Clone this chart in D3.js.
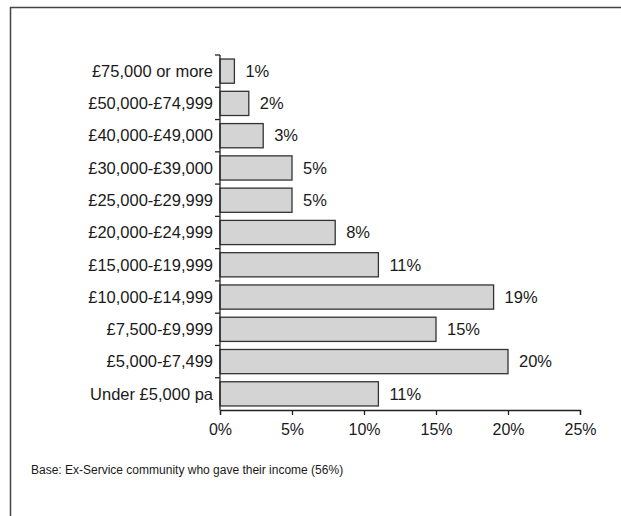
<!DOCTYPE html>
<html>
<head>
<meta charset="utf-8">
<script src="https://cdn.jsdelivr.net/npm/d3@7"></script>
<style>
body { margin: 0; background: #fff; }
text { font-family: "Liberation Sans", Arial, sans-serif; fill: #1a1a1a; }
</style>
</head>
<body>
<script>
// chart data
var categories = ["£75,000 or more", "£50,000-£74,999", "£40,000-£49,000", "£30,000-£39,000",
  "£25,000-£29,999", "£20,000-£24,999", "£15,000-£19,999", "£10,000-£14,999",
  "£7,500-£9,999", "£5,000-£7,499", "Under £5,000 pa"];
var values = [1, 2, 3, 5, 5, 8, 11, 19, 15, 20, 11];
var xTicks = [0, 5, 10, 15, 20, 25];
var note = "Base: Ex-Service community who gave their income (56%)";

var w = 621, h = 516;
var svg = d3.select("body").append("svg")
  .attr("width", w)
  .attr("height", h);

// outer frame
svg.append("rect")
  .attr("x", 10.5).attr("y", 7.5)
  .attr("width", 620).attr("height", 520)
  .attr("fill", "none")
  .attr("stroke", "#444")
  .attr("stroke-width", 1.5);

var x = d3.scaleLinear().domain([0, 25]).range([220, 580]);
var y = d3.scaleBand().domain(categories).range([55, 410]).paddingInner(0.25).paddingOuter(0.125);

// bars
svg.selectAll("rect.bar")
  .data(values)
  .enter().append("rect")
  .attr("class", "bar")
  .attr("x", x(0))
  .attr("y", function(d, i){ return y(categories[i]); })
  .attr("width", function(d){ return x(d) - x(0); })
  .attr("height", y.bandwidth())
  .attr("fill", "#d4d4d4")
  .attr("stroke", "#333")
  .attr("stroke-width", 1.3);

// value labels
svg.selectAll("text.val")
  .data(values)
  .enter().append("text")
  .attr("class", "val")
  .attr("x", function(d){ return x(d) + 11; })
  .attr("y", function(d, i){ return y(categories[i]) + y.bandwidth() / 2; })
  .attr("dy", "0.35em")
  .style("font-size", "16.5px")
  .text(function(d){ return d + "%"; });

// y axis: line with ticks at band boundaries
var yAxis = svg.append("g");
yAxis.append("line")
  .attr("x1", x(0)).attr("x2", x(0))
  .attr("y1", 55).attr("y2", 410)
  .attr("stroke", "#222").attr("stroke-width", 1.3);
var step = y.step();
var bounds = d3.range(categories.length).map(function(i){ return y(categories[i]) - step * y.paddingInner() / 2; });
yAxis.selectAll("line.tick")
  .data(bounds)
  .enter().append("line")
  .attr("class", "tick")
  .attr("x1", x(0) - 5).attr("x2", x(0))
  .attr("y1", function(d){ return d; }).attr("y2", function(d){ return d; })
  .attr("stroke", "#222").attr("stroke-width", 1.3);
yAxis.selectAll("text")
  .data(categories)
  .enter().append("text")
  .attr("x", x(0) - 7)
  .attr("y", function(d){ return y(d) + y.bandwidth() / 2; })
  .attr("dy", "0.35em")
  .attr("text-anchor", "end")
  .style("font-size", "16.5px")
  .text(function(d){ return d; });

// x axis
var xAxis = svg.append("g").attr("transform", "translate(0,410)")
  .call(d3.axisBottom(x).tickValues(xTicks).tickSize(5).tickPadding(9)
    .tickFormat(function(d){ return d + "%"; }));
xAxis.select(".domain").attr("stroke", "#222").attr("stroke-width", 1.3);
xAxis.selectAll(".tick line").attr("stroke", "#222").attr("stroke-width", 1.3);
xAxis.selectAll(".tick text")
  .style("font-size", "16px")
  .style("font-family", "'Liberation Sans', Arial, sans-serif")
  .attr("fill", "#1a1a1a");

// footnote
svg.append("text")
  .attr("x", 31).attr("y", 474)
  .style("font-size", "12px")
  .attr("fill", "#222")
  .text(note);
</script>
</body>
</html>
